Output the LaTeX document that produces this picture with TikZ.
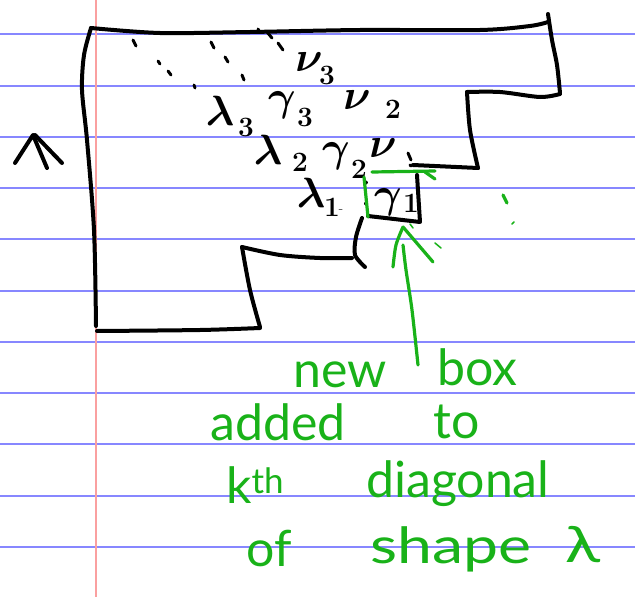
\documentclass[tikz,border=0pt]{standalone}
\usepackage{fontspec}
\newfontfamily\hand{Lato}
\definecolor{rulecol}{RGB}{135,135,255}
\definecolor{margincol}{RGB}{250,160,160}
\definecolor{pen}{RGB}{25,178,25}
\newcommand{\bigsym}[1]{\scalebox{1.7}{\Huge\boldmath$#1$}}
\begin{document}
\begin{tikzpicture}[x=1pt,y=-1pt,line cap=round,line join=round,
  ruleline/.style={rulecol,line width=1.4pt},
  ink/.style={black,line width=4pt},
  dots/.style={black,line width=3pt},
  gink/.style={pen,line width=3.2pt},
  lab/.style={inner sep=0pt},
  sub/.style={inner sep=0pt,font=\fontsize{28}{28}\selectfont\bfseries},
  gtext/.style={inner sep=0pt,anchor=base west,pen,font=\hand\fontsize{50}{50}\selectfont}]
\useasboundingbox (0,0) rectangle (635,597);
\fill[white] (0,0) rectangle (635,597);
% ruled paper
\foreach \yy in {34,86,137,188,239,291,342,393,444,496,547}
  \draw[ruleline] (0,\yy) -- (635,\yy);
\draw[margincol,line width=1.4pt] (96,0) -- (96,597);
% outline of the shape
\draw[ink] plot[smooth] coordinates {(96,326)(94,230)(87,140)(82,90)(84,55)(91,28)};
\draw[ink] plot[smooth] coordinates {(91,28)(160,33)(250,32)(360,30)(480,30)(530,26)(548,22)};
\draw[ink] plot[smooth] coordinates {(548,14)(552,40)(557,65)(560,93)};
\draw[ink] plot[smooth] coordinates {(560,94)(540,97)(500,92)(467,92)};
\draw[ink] plot[smooth] coordinates {(467,92)(470,130)(478,168)};
\draw[ink] (478,168) -- (413,165);
\draw[ink] (417,175) -- (420,222) -- (368,216);
\draw[ink] plot[smooth] coordinates {(362,218)(356,237)(355,255)(365,267)};
\draw[ink] plot[smooth] coordinates {(352,258)(320,258)(280,255)(242,247)};
\draw[ink] plot[smooth] coordinates {(242,247)(250,290)(260,327)};
\draw[ink] plot[smooth] coordinates {(260,328)(200,330)(97,331)};
% diagonal dots
\draw[dots] (133,40) -- (136,46);
\draw[dots] (158,61) -- (160,64);
\draw[dots] (168,71) -- (171,75);
\draw[dots] (194,85) -- (195,88);
\draw[dots] (211,42) -- (214,48);
\draw[dots] (225,57) -- (228,62);
\draw[dots] (242,75) -- (244,80);
\draw[dots] (258,29) -- (259,31);
\draw[dots] (267,32) -- (272,38);
\draw[dots] (278,43) -- (283,50);
\draw[dots] (408,153) -- (411,160);
\draw[dots] (410,165) -- (411,166);
\draw[dots] (366,182) -- (366,183);
\draw[dots] (365,203) -- (365,204);
\draw[black!60,line width=1pt] (339,209) -- (342,209);
% the mark on the left
\draw[ink] (15,163) -- (33,135) -- (47,168);
\draw[ink] (35,135) -- (62,163);
% labels
\node[lab] (nu3) at (309,62) {\bigsym{\nu}};
\node[sub] (nu3s) at (327,75) {3};
\node[lab] (la3) at (220,111) {\bigsym{\lambda}};
\node[sub] (la3s) at (246,127) {3};
\node[lab] (ga3) at (282,105) {\bigsym{\gamma}};
\node[sub] (ga3s) at (305,117) {3};
\node[lab] (nu2) at (357,100) {\bigsym{\nu}};
\node[sub] (nu2s) at (393,109) {2};
\node[lab] (la2) at (268,150) {\bigsym{\lambda}};
\node[sub] (la2s) at (300,162) {2};
\node[lab] (ga2) at (336,156) {\bigsym{\gamma}};
\node[sub] (ga2s) at (359,169) {2};
\node[lab] (nu1) at (383,148) {\bigsym{\nu}};
\node[lab] (la1) at (311,193) {\bigsym{\lambda}};
\node[sub] (la1s) at (332,207) {1};
\node[lab] (ga1) at (388,202) {\bigsym{\gamma}};
\node[sub] (ga1s) at (411,203) {1};
% green box edges
\draw[gink] (372,172) -- (435,171);
\draw[gink] (425,172) -- (435,179);
\draw[gink] (364,177) -- (368,217);
% green arrow
\draw[gink] plot[smooth] coordinates {(418,365)(412,310)(406,270)(403,245)};
\draw[gink] plot[smooth] coordinates {(393,267)(396,245)(403,227)};
\draw[gink] (403,227) -- (433,262);
\draw[gink,line width=1.5pt] (410,224) -- (413,228);
\draw[gink,line width=1.5pt] (435,243) -- (441,248);
\draw[gink] (503,195) -- (507,203);
\draw[gink,line width=1.5pt] (512,224) -- (514,222);
% green note
\node[gtext] (w1) at (293,387) {new};
\node[gtext] (w2) at (437,385) {box};
\node[gtext] (w3) at (210,440) {added};
\node[gtext] (w4) at (433,438) {to};
\node[gtext] (w5) at (226,503) {k\textsuperscript{th}};
\node[gtext] (w6) at (366,497) {diagonal};
\node[gtext] (w7) at (246,566) {of};
\node[gtext] (w8) at (370,563) {\scalebox{1.25}[1]{shape}};
\node[gtext] (w9) at (565,562) {\scalebox{1.3}[1]{λ}};
\end{tikzpicture}
\end{document}
